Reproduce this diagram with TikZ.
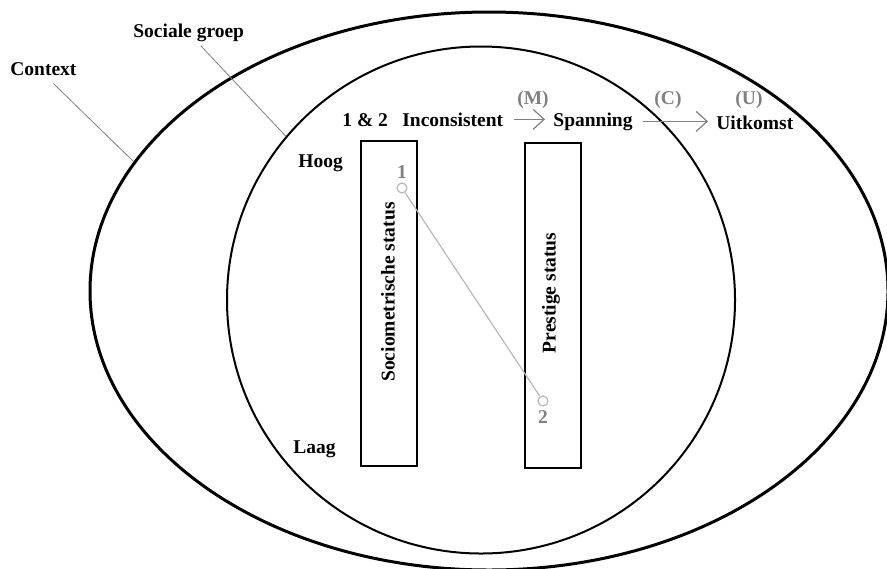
\documentclass[tikz,border=0pt]{standalone}
\usepackage{fontspec}
\setmainfont{Liberation Serif}
\usepackage{xcolor}
\usepackage{tikz}
\usetikzlibrary{shapes,arrows.meta,positioning}

\definecolor{midgray}{gray}{0.5}
\definecolor{softgray}{gray}{0.72}

\begin{document}
\begin{tikzpicture}[x=0.5pt,y=-0.5pt,
    every node/.style={font=\fontsize{9.75}{12}\selectfont\bfseries},
    txt/.style={inner sep=0pt},
    grey/.style={inner sep=0pt,text=midgray},
    ring/.style={draw,ellipse,inner sep=0pt},
    bar/.style={draw,rectangle,line width=1pt,minimum width=28pt,minimum height=162.5pt,inner sep=0pt},
    dot/.style={draw=softgray,circle,line width=0.6pt,minimum size=5pt,inner sep=0pt},
    flow/.style={draw=midgray,line width=0.6pt,-{Straight Barb[length=5.5pt,width=10pt]},shorten <=5pt,shorten >=4pt},
    lead/.style={draw=gray,line width=0.4pt}]
    \useasboundingbox (0,0) rectangle (887,568);

    % Context and social group
    \node[ring,line width=1.5pt,minimum width=399pt,minimum height=279pt] (context) at (489,291) {};
    \node[ring,line width=1pt,minimum width=254pt,minimum height=253.5pt] (group) at (481,300) {};

    \node[txt,anchor=base west] (ctxlab) at (10,75) {Context};
    \node[txt,anchor=base west] (grplab) at (133,37) {Sociale groep};
    \draw[lead] ([xshift=5pt,yshift=-4pt]ctxlab.south) -- (context.160);
    \draw[lead] ([xshift=6pt,yshift=-2pt]grplab.south) -- (group.140);

    % Status bars
    \node[bar] (socio) at (389,303.5) {};
    \node[bar] (prest) at (553,305.5) {};
    \node[rotate=90] (sociotxt) at (388,292) {Sociometrische status};
    \node[rotate=90] (presttxt) at (551,293) {Prestige status};

    \node[txt,anchor=base west] (hoog) at (298,167) {Hoog};
    \node[txt,anchor=base west] (laag) at (293,453) {Laag};

    % Positions 1 and 2
    \node[dot] (p1) at (402,188) {};
    \node[dot] (p2) at (543,401) {};
    \draw[softgray,line width=0.6pt] (p1) -- (p2);
    \node[grey,anchor=base] (n1) at (402,178) {1};
    \node[grey,anchor=base] (n2) at (543,423) {2};

    % Process: inconsistent -> spanning -> uitkomst
    \node[txt,anchor=base west] (pair) at (342,126) {1 \& 2};
    \node[txt,anchor=base west] (incon) at (402,126) {Inconsistent};
    \node[txt,anchor=base west] (span) at (553,126) {Spanning};
    \node[txt,anchor=base west] (uit) at (716,129) {Uitkomst};
    \draw[flow] (incon.east) -- (incon.east -| span.west);
    \draw[flow] (span.east) -- (span.east -| uit.west);

    \node[grey,anchor=base] (mlab) at (533,104) {(M)};
    \node[grey,anchor=base] (clab) at (668,104) {(C)};
    \node[grey,anchor=base] (ulab) at (749,104) {(U)};
\end{tikzpicture}
\end{document}
